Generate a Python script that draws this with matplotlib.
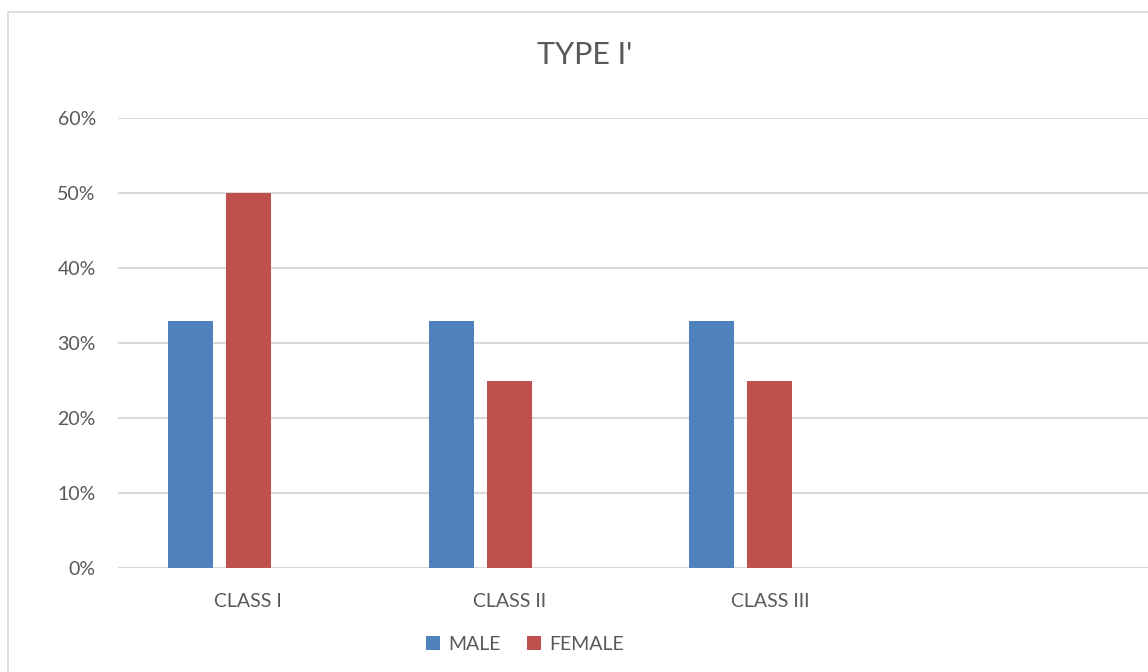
import numpy as np
import matplotlib.pyplot as plt
from matplotlib.patches import Rectangle

# datos de la grafica
categorias = ["CLASS I", "CLASS II", "CLASS III"]
male = [0.33, 0.33, 0.33]
female = [0.50, 0.25, 0.25]
yticks = [0, 0.1, 0.2, 0.3, 0.4, 0.5, 0.6]

plt.rcParams['font.family'] = ['Lato', 'DejaVu Sans']
gris = '#595959'

fig = plt.figure(figsize=(11.48, 6.72), dpi=100)
# marco exterior del grafico
fig.patches.append(Rectangle((8/1148, -0.1), 1.2, (672-12)/672 + 0.1, transform=fig.transFigure,
                             fill=False, edgecolor='#d9d9d9', linewidth=1.2))

ax = fig.add_axes([118/1148, 104/672, 1043/1148, 450/672])
x = np.arange(len(categorias))
w = 0.1726
ax.bar(x - 0.2225, male, width=w, color='#4F81BD', label='MALE', zorder=3)
ax.bar(x, female, width=w, color='#C0504D', label='FEMALE', zorder=3)

ax.set_xlim(-0.5, 3.5)
ax.set_ylim(0, 0.6)
ax.set_yticks(yticks)
ax.set_yticklabels([f"{int(round(v*100))}%" for v in yticks])
ax.set_xticks(x)
ax.set_xticklabels(categorias)
ax.tick_params(axis='y', length=0, pad=16, labelsize=14, labelcolor=gris)
ax.tick_params(axis='x', length=0, pad=18, labelsize=14, labelcolor=gris)
ax.grid(axis='y', color='#d9d9d9', linewidth=1.5, zorder=0)
for s in ax.spines.values():
    s.set_visible(False)

fig.text(585/1148, 1 - 55/672, "TYPE I'", ha='center', va='center', fontsize=22, color=gris)
fig.legend(loc='center', bbox_to_anchor=(525/1148, 1 - 644/672), ncol=2, frameon=False,
           fontsize=14, labelcolor=gris, handlelength=0.7, handleheight=0.7,
           handletextpad=0.4, columnspacing=1.4)

fig.savefig('out.png', dpi=100)
